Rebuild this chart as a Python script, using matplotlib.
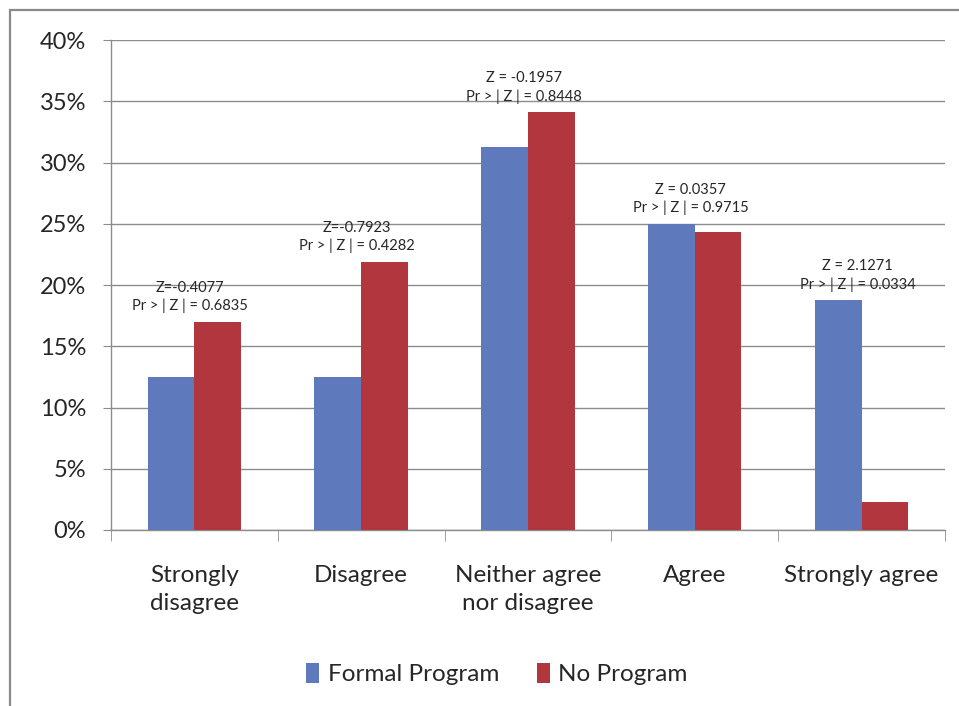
import matplotlib

matplotlib.use("Agg")
import matplotlib.pyplot as plt
import numpy as np
from matplotlib.patches import Rectangle
from matplotlib.ticker import FuncFormatter, MultipleLocator

categories = ["Strongly\ndisagree", "Disagree", "Neither agree\nnor disagree", "Agree", "Strongly agree"]
formal_program = [12.5, 12.5, 31.25, 25.0, 18.75]
no_program = [17.0, 21.9, 34.1, 24.3, 2.3]
z_labels = ["Z=-0.4077", "Z=-0.7923", "Z = -0.1957", "Z = 0.0357", "Z = 2.1271"]
p_values = ["0.6835", "0.4282", "0.8448", "0.9715", "0.0334"]

BLUE = "#5F79BD"
RED = "#B1363E"
GRID = "#8C8C8C"
TEXT = "#262626"

plt.rcParams["font.family"] = ["Lato", "DejaVu Sans"]

fig = plt.figure(figsize=(9.59, 7.06), dpi=100)
ax = fig.add_axes([0.1157, 0.2493, 0.8697, 0.694])

# chart-area frame, clipped by the figure edge on the right and bottom
fig.add_artist(Rectangle((10 / 959, -0.05), 1.1, (706 - 10) / 706 + 0.05,
                         transform=fig.transFigure, fill=False,
                         edgecolor="#8A8A8A", linewidth=1.6))

x = np.arange(len(categories))
w = 0.28
ax.bar(x - w / 2, formal_program, w, color=BLUE, label="Formal Program", zorder=3)
ax.bar(x + w / 2, no_program, w, color=RED, label="No Program", zorder=3)

for i in range(len(categories)):
    top = max(formal_program[i], no_program[i])
    ax.annotate(f"{z_labels[i]}\nPr > | Z | = {p_values[i]}",
                xy=(x[i], top), xytext=(-3, 6), textcoords="offset points",
                ha="center", va="bottom", fontsize=10.5, color=TEXT,
                linespacing=1.35, zorder=4)

ax.set_xlim(-0.5, len(categories) - 0.5)
ax.set_ylim(0, 40)
ax.yaxis.set_major_locator(MultipleLocator(5))
ax.yaxis.set_major_formatter(FuncFormatter(lambda v, _: f"{v:.0f}%"))
ax.grid(axis="y", color=GRID, linewidth=1.0, zorder=0)

ax.set_xticks(x)
ax.set_xticklabels(categories, fontsize=17.5, linespacing=1.4, color=TEXT)
ax.set_xticks(np.arange(len(categories) + 1) - 0.5, minor=True)
ax.tick_params(axis="x", which="major", length=0, pad=25)
ax.tick_params(axis="x", which="minor", length=8, color=GRID, direction="out")
ax.tick_params(axis="y", length=6, color=GRID, labelsize=17, pad=12, labelcolor=TEXT)

for side in ("top", "right"):
    ax.spines[side].set_visible(False)
for side in ("left", "bottom"):
    ax.spines[side].set_color(GRID)
    ax.spines[side].set_linewidth(1.0)

leg = fig.legend(loc="center", bbox_to_anchor=(0.518, 0.045), ncol=2, frameon=False,
                 fontsize=17.5, handlelength=0.55, handleheight=0.9, handletextpad=0.35,
                 columnspacing=1.55)
for t in leg.get_texts():
    t.set_color(TEXT)

fig.savefig("out.png", dpi=100, facecolor="white")
